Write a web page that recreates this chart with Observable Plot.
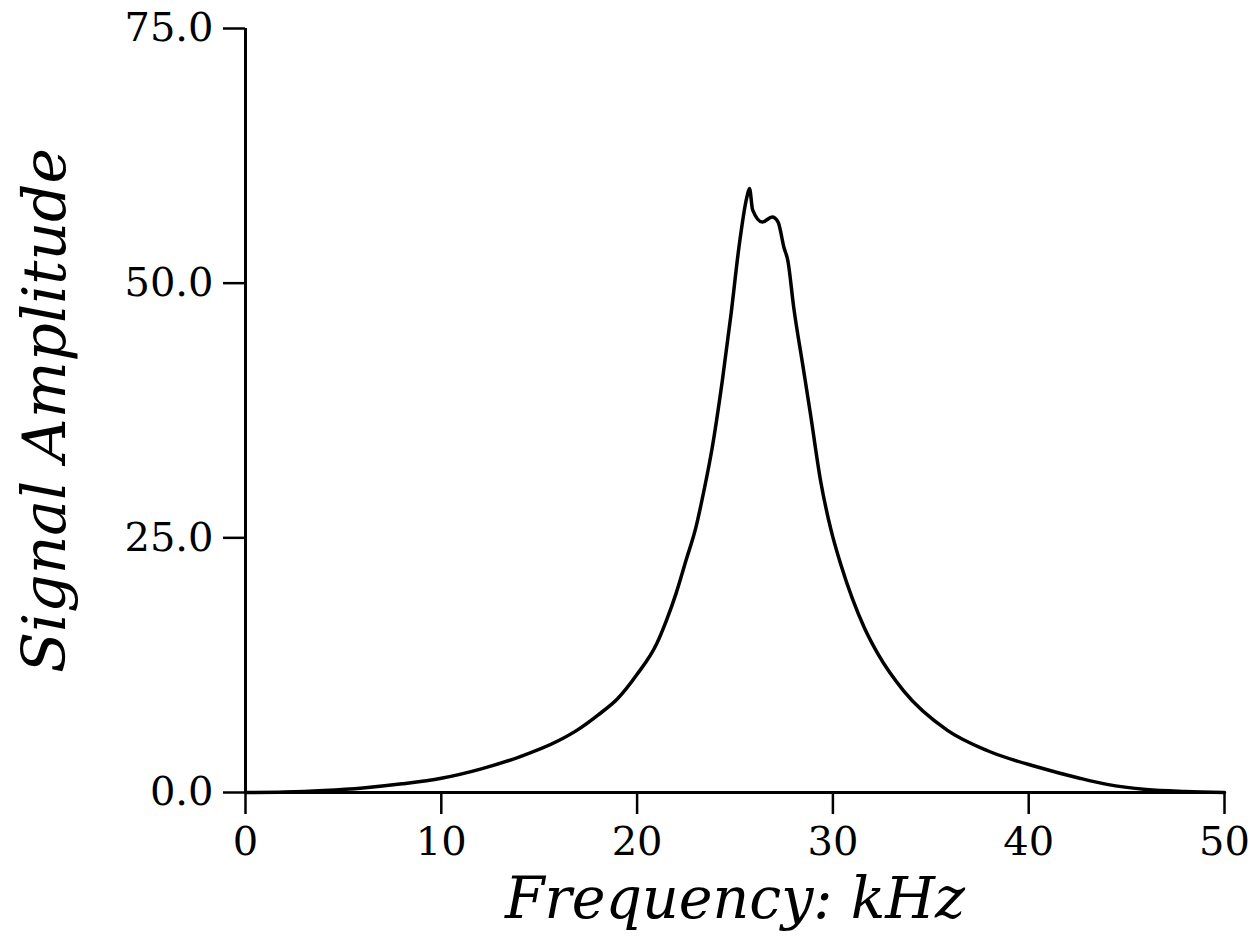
<!DOCTYPE html>
<html>
<head>
<meta charset="utf-8">
<script src="https://cdn.jsdelivr.net/npm/d3@7"></script>
<script src="https://cdn.jsdelivr.net/npm/@observablehq/plot@0.6"></script>
<style>
  html, body { margin: 0; padding: 0; background: #fff; }
  #chart svg { display: block; }
</style>
</head>
<body>
<div id="chart"></div>
<script>
// Frequency (kHz) and signal amplitude
const frequency = [0, 2, 4, 6, 8, 10, 12, 14, 16, 17, 18, 19, 20, 21, 21.5, 22, 22.5, 23.0, 23.4, 23.84, 24.35, 24.8, 25.2, 25.6, 25.74, 25.9, 26.4, 26.9, 27.2, 27.5, 27.7, 28.0, 28.45, 28.85, 29.37, 29.9, 30.4, 31.0, 31.6, 32.3, 33.6, 35.85, 37.9, 40.45, 42.6, 44, 46, 48, 50];
const amplitude = [0, 0.05, 0.2, 0.45, 0.85, 1.4, 2.3, 3.5, 5.1, 6.2, 7.6, 9.2, 11.6, 14.6, 16.9, 19.6, 22.8, 26.0, 29.5, 33.9, 40.4, 47.0, 53.5, 58.4, 59.3, 57.2, 56.0, 56.5, 56.0, 53.5, 52.2, 47.6, 42.1, 37.2, 30.6, 25.8, 22.4, 19.0, 16.2, 13.6, 10.0, 6.1, 4.1, 2.5, 1.4, 0.8, 0.3, 0.1, 0];
const xTicks = [0, 10, 20, 30, 40, 50];
const yTicks = [0, 25, 50, 75];
const xLabel = "Frequency: kHz";
const yLabel = "Signal Amplitude";

const data = frequency.map((f, i) => ({f, a: amplitude[i]}));
const tickFont = "DejaVu Serif";
const labelFont = "DejaVu Serif";

const chart = Plot.plot({
  width: 1256,
  height: 938,
  marginLeft: 245,
  marginRight: 32,
  marginTop: 28,
  marginBottom: 146,
  style: {background: "#fff", color: "#000"},
  x: {domain: [0, 50]},
  y: {domain: [0, 75]},
  marks: [
    Plot.axisX({ticks: xTicks, tickSize: 22, tickPadding: 12, strokeWidth: 2.5, fontSize: 40, fontFamily: tickFont, label: null, tickFormat: d3.format("d")}),
    Plot.axisY({ticks: yTicks, tickSize: 22, tickPadding: 10, strokeWidth: 2.5, fontSize: 40, fontFamily: tickFont, label: null, tickFormat: d3.format(".1f")}),
    Plot.ruleX([0], {stroke: "#000", strokeWidth: 3}),
    Plot.ruleY([0], {stroke: "#000", strokeWidth: 3}),
    Plot.line(data, {x: "f", y: "a", stroke: "#000", strokeWidth: 3.5, curve: "monotone-x"}),
    Plot.text([xLabel], {frameAnchor: "bottom", lineAnchor: "middle", dy: 107, fontSize: 57, fontStyle: "italic", fontFamily: labelFont, fill: "#000"}),
    Plot.text([yLabel], {frameAnchor: "left", textAnchor: "middle", lineAnchor: "middle", dx: -200, rotate: -90, fontSize: 60, fontStyle: "italic", fontFamily: labelFont, fill: "#000"})
  ]
});
document.getElementById("chart").appendChild(chart);
</script>
</body>
</html>
